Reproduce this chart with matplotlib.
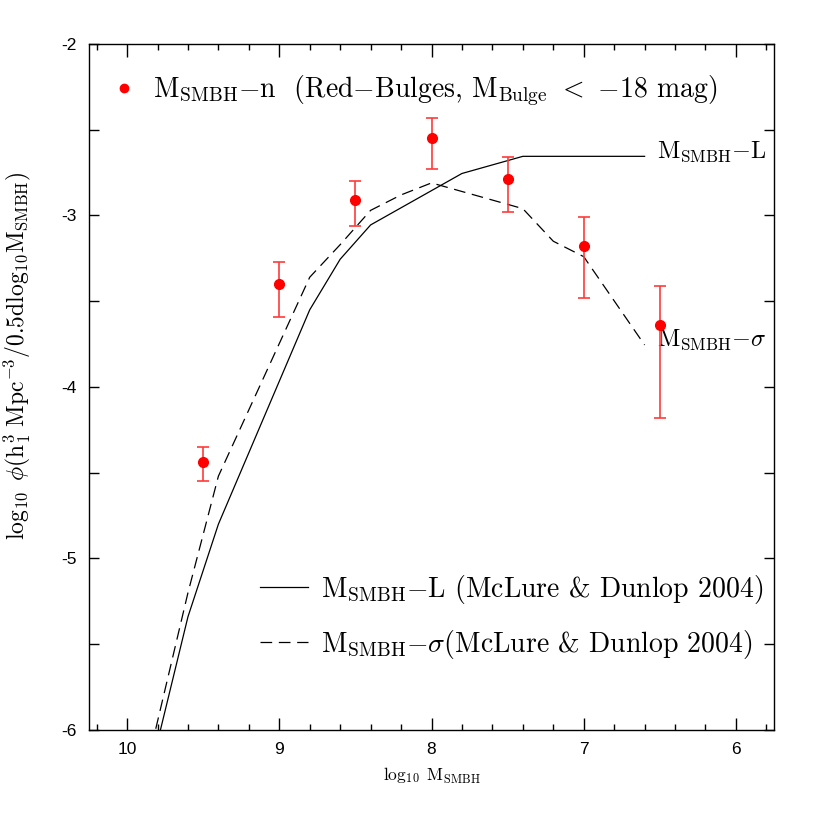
import matplotlib
matplotlib.use("Agg")
import matplotlib.pyplot as plt
from matplotlib.lines import Line2D
from matplotlib.ticker import MultipleLocator, FixedLocator
import numpy as np

plt.rcParams['mathtext.fontset'] = 'cm'
plt.rcParams['axes.unicode_minus'] = False
plt.rcParams['lines.scale_dashes'] = False

# ---- data ----
x_pts = [9.5, 9.0, 8.5, 8.0, 7.5, 7.0, 6.5]
y_pts = [-4.44, -3.40, -2.91, -2.55, -2.79, -3.18, -3.64]
y_lo = [-4.55, -3.59, -3.06, -2.73, -2.98, -3.48, -4.18]
y_hi = [-4.35, -3.27, -2.80, -2.43, -2.66, -3.01, -3.41]

x_L = [10.0, 9.6, 9.4, 8.8, 8.6, 8.4, 7.8, 7.4, 6.6]
y_L = [-6.80, -5.34, -4.80, -3.55, -3.255, -3.055, -2.755, -2.655, -2.655]

x_S = [10.0, 9.6, 9.4, 8.8, 8.6, 8.4, 8.2, 8.0, 7.4, 7.2, 7.0, 6.6]
y_S = [-6.70, -5.20, -4.52, -3.36, -3.17, -2.97, -2.88, -2.81, -2.96, -3.15, -3.24, -3.755]

x_ticks = [10, 9, 8, 7, 6]
x_ticklabels = ['10', '9', '8', '7', '6']
y_ticks = [-6, -5, -4, -3, -2]
y_ticklabels = ['-6', '-5', '-4', '-3', '-2']

lbl_pts = r'M$_\mathrm{SMBH}$$-$n  (Red$-$Bulges, M$_\mathrm{Bulge}$ $<$ $-$18 mag)'
lbl_L = r'M$_\mathrm{SMBH}$$-$L (McLure & Dunlop 2004)'
lbl_S = r'M$_\mathrm{SMBH}$$-\sigma$(McLure & Dunlop 2004)'
ann_L = r'M$_\mathrm{SMBH}$$-$L'
ann_S = r'M$_\mathrm{SMBH}$$-\sigma$'

SERIF = 'cmr10'
FS = 20

fig = plt.figure(figsize=(8.17, 8.17), dpi=100)
ax = fig.add_axes([89/817, 1-730/817, (774-89)/817, (730-44)/817])

yp = np.array(y_pts)
yerr = [yp - np.array(y_lo), np.array(y_hi) - yp]

lL, = ax.plot(x_L, y_L, color='black', lw=0.9)
lS, = ax.plot(x_S, y_S, color='black', lw=0.9, linestyle=(0, (8.4, 4.8)))
ax.errorbar(x_pts, y_pts, yerr=yerr, fmt='o', color='red', ms=7,
            ecolor='#ff3b3b', elinewidth=1.2, capsize=4.5, capthick=1.2, zorder=5)

ax.set_xlim(10.25, 5.75)
ax.set_ylim(-6, -2)

ax.xaxis.set_major_locator(FixedLocator(x_ticks))
ax.set_xticklabels(x_ticklabels)
ax.xaxis.set_minor_locator(MultipleLocator(0.2))
ax.yaxis.set_major_locator(FixedLocator(y_ticks))
ax.set_yticklabels(y_ticklabels)
ax.yaxis.set_minor_locator(MultipleLocator(0.5))

ax.tick_params(axis='both', which='both', direction='in', top=True, right=True, width=1.0)
ax.tick_params(axis='x', which='major', length=9, pad=9)
ax.tick_params(axis='x', which='minor', length=4.5)
ax.tick_params(axis='y', which='major', length=7.5, pad=9)
ax.tick_params(axis='y', which='minor', length=7.5)
for lab in ax.get_xticklabels() + ax.get_yticklabels():
    lab.set_fontfamily('Liberation Sans')
    lab.set_fontsize(12.5)
for s in ax.spines.values():
    s.set_linewidth(1.0)

ax.set_xlabel(r'$\log_{10}\ \mathrm{M_{SMBH}}$', fontsize=12.5, labelpad=6)
ax.set_ylabel(r'$\log_{10}\ \phi(\mathrm{h_1^3\ Mpc^{-3}/0.5dlog_{10}M_{SMBH}})$', fontsize=17)
ax.yaxis.set_label_coords(-0.082, 0.545)

ax.text(6.52, -2.665, ann_L, fontsize=17.5, ha='left', va='baseline', family=SERIF)
ax.text(6.52, -3.76, ann_S, fontsize=17.5, ha='left', va='baseline', family=SERIF)

h_pt = Line2D([], [], marker='o', color='red', ms=6, linestyle='none')
leg1 = ax.legend([h_pt], [lbl_pts], loc='upper left', bbox_to_anchor=(0.019, 0.969),
                 frameon=False, prop={'family': SERIF, 'size': FS},
                 handlelength=1.0, handletextpad=0.55,
                 borderaxespad=0.0, borderpad=0.3)
ax.add_artist(leg1)
ax.legend([lL, lS], [lbl_L, lbl_S], loc='lower right', bbox_to_anchor=(1.0, 0.085),
          frameon=False, prop={'family': SERIF, 'size': FS},
          handlelength=1.7, handletextpad=0.47,
          labelspacing=0.78, borderaxespad=0.0)

fig.savefig('out.png', dpi=100)
